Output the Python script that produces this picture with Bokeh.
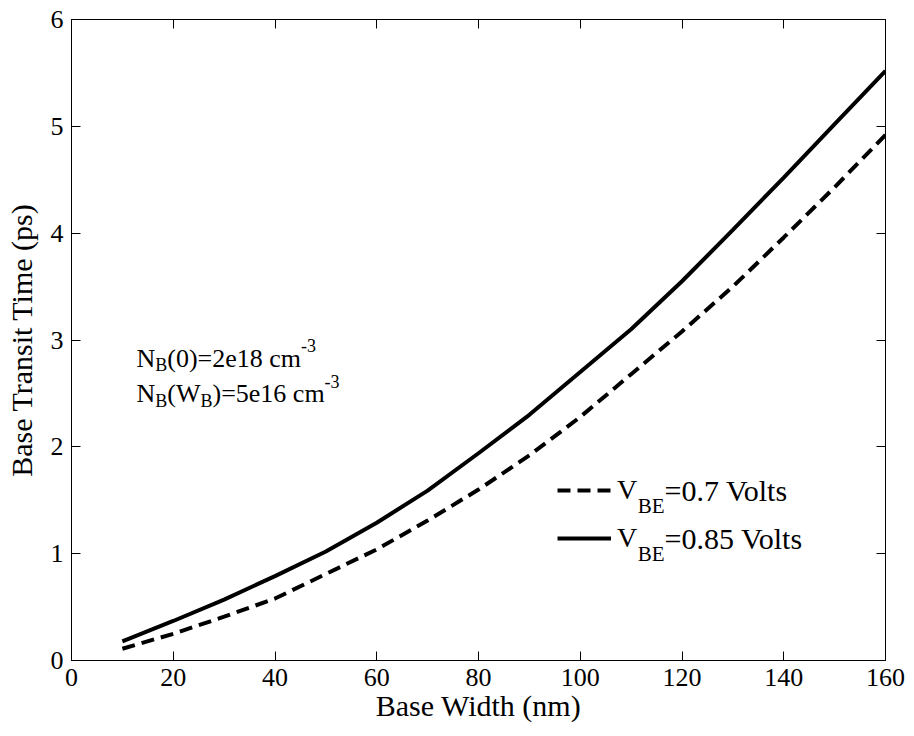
from bokeh.plotting import figure
from bokeh.models import Range1d, LinearAxis, Legend, LegendItem, Label, FixedTicker
from bokeh.embed import file_html
from bokeh.resources import INLINE

# ---- data ----
base_width_nm = [10, 20, 30, 40, 50, 60, 70, 80, 90, 100, 110, 120, 130, 140, 150, 160]
transit_vbe_070 = [0.11, 0.25, 0.41, 0.58, 0.81, 1.04, 1.31, 1.60, 1.92, 2.28, 2.68, 3.08, 3.50, 3.96, 4.43, 4.92]
transit_vbe_085 = [0.18, 0.37, 0.57, 0.79, 1.02, 1.29, 1.59, 1.94, 2.30, 2.70, 3.10, 3.55, 4.03, 4.52, 5.02, 5.52]
x_ticks = [0, 20, 40, 60, 80, 100, 120, 140, 160]
y_ticks = [0, 1, 2, 3, 4, 5, 6]

FONT = "Liberation Serif"
W, H = 914, 736
BL, BT, BR, BB = 71, 19, 29, 76
FW, FH = W - BL - BR, H - BT - BB
XMIN, XMAX, YMIN, YMAX = 0, 160, 0, 6

p = figure(width=W, height=H, output_backend="svg", toolbar_location=None,
           x_range=Range1d(XMIN, XMAX), y_range=Range1d(YMIN, YMAX),
           min_border_left=BL, min_border_right=BR, min_border_top=BT, min_border_bottom=BB)
p.background_fill_color = "white"
p.border_fill_color = "white"
p.outline_line_color = "black"
p.outline_line_width = 1
p.xgrid.grid_line_color = None
p.ygrid.grid_line_color = None

bottom_axis = p.below[0]
left_axis = p.left[0]
top_axis = LinearAxis()
right_axis = LinearAxis()
p.add_layout(top_axis, "above")
p.add_layout(right_axis, "right")

def style_axis(ax, ticks, labels=True):
    ax.ticker = FixedTicker(ticks=ticks)
    ax.major_tick_in = 9
    ax.major_tick_out = 0
    ax.minor_tick_line_color = None
    ax.axis_line_color = "black"
    ax.major_tick_line_color = "black"
    ax.major_label_text_font = FONT
    if labels:
        ax.major_label_text_color = "black"
        ax.major_label_text_font_size = "26px"
        ax.major_label_standoff = 8
    else:
        ax.major_label_text_color = None
        ax.major_label_text_font_size = "10px"
        ax.major_label_standoff = 0

style_axis(bottom_axis, x_ticks)
style_axis(left_axis, y_ticks)
style_axis(top_axis, x_ticks, labels=False)
style_axis(right_axis, y_ticks, labels=False)

for ax, txt, so in [(bottom_axis, "Base Width (nm)", 0), (left_axis, "Base Transit Time (ps)", 10)]:
    ax.axis_label = txt
    ax.axis_label_text_font = FONT
    ax.axis_label_text_font_size = "30px"
    ax.axis_label_text_font_style = "normal"
    ax.axis_label_text_color = "black"
    ax.axis_label_standoff = so

r070 = p.line(base_width_nm, transit_vbe_070, line_color="black", line_width=4, line_dash="13 7")
r085 = p.line(base_width_nm, transit_vbe_085, line_color="black", line_width=4)

legend = Legend(items=[LegendItem(label="V", renderers=[r070]),
                       LegendItem(label="V", renderers=[r085])],
                location=(486, 102), padding=0, margin=0,
                border_line_color=None, background_fill_alpha=0,
                glyph_width=54, glyph_height=40, label_height=40, spacing=8,
                label_standoff=6, label_text_font=FONT, label_text_font_size="28px",
                label_text_color="black")
p.add_layout(legend)

# ---- text helpers (Times metrics) ----
WID = {" ": 250, "(": 333, ")": 333, "=": 564, "-": 333, ".": 250,
       "B": 667, "E": 611, "N": 722, "V": 722, "W": 944,
       "c": 444, "e": 444, "l": 278, "m": 778, "o": 500, "s": 389, "t": 278}
def tw(s, size):
    return sum(WID.get(ch, 500) for ch in s) * size / 1000.0

def dx(px):
    return XMIN + (px - BL) * (XMAX - XMIN) / FW

def dy(py):
    return YMIN + (BT + FH - py) * (YMAX - YMIN) / FH

def pieces(x0, y0, parts, baseline):
    x = x0
    for txt, size, rise in parts:
        p.add_layout(Label(x=dx(x), y=dy(y0 - rise), text=txt, text_font=FONT,
                           text_font_size=f"{size}px", text_color="black",
                           text_baseline=baseline, text_align="left"))
        x += tw(txt, size)

# doping annotation
pieces(136, 358, [("N", 26, 0), ("B", 18, -6), ("(0)=2e18 cm", 26, 0), ("-3", 18, 13)], "alphabetic")
pieces(136, 393, [("N", 26, 0), ("B", 18, -7), ("(W", 26, 0), ("B", 18, -7),
                  (")=5e16 cm", 26, 0), ("-3", 18, 12)], "alphabetic")

# legend subscripts and remainders (after the legend's "V")
vx = 557 + 54 + 6 + tw("V", 28)
for row_y, rest in [(490, "=0.7 Volts"), (538, "=0.85 Volts")]:
    pieces(vx, row_y, [("BE", 21, -15)], "middle")
    pieces(vx + tw("BE", 21), row_y, [(rest, 30, 0)], "middle")

open("out.html", "w").write(file_html(p, INLINE))
